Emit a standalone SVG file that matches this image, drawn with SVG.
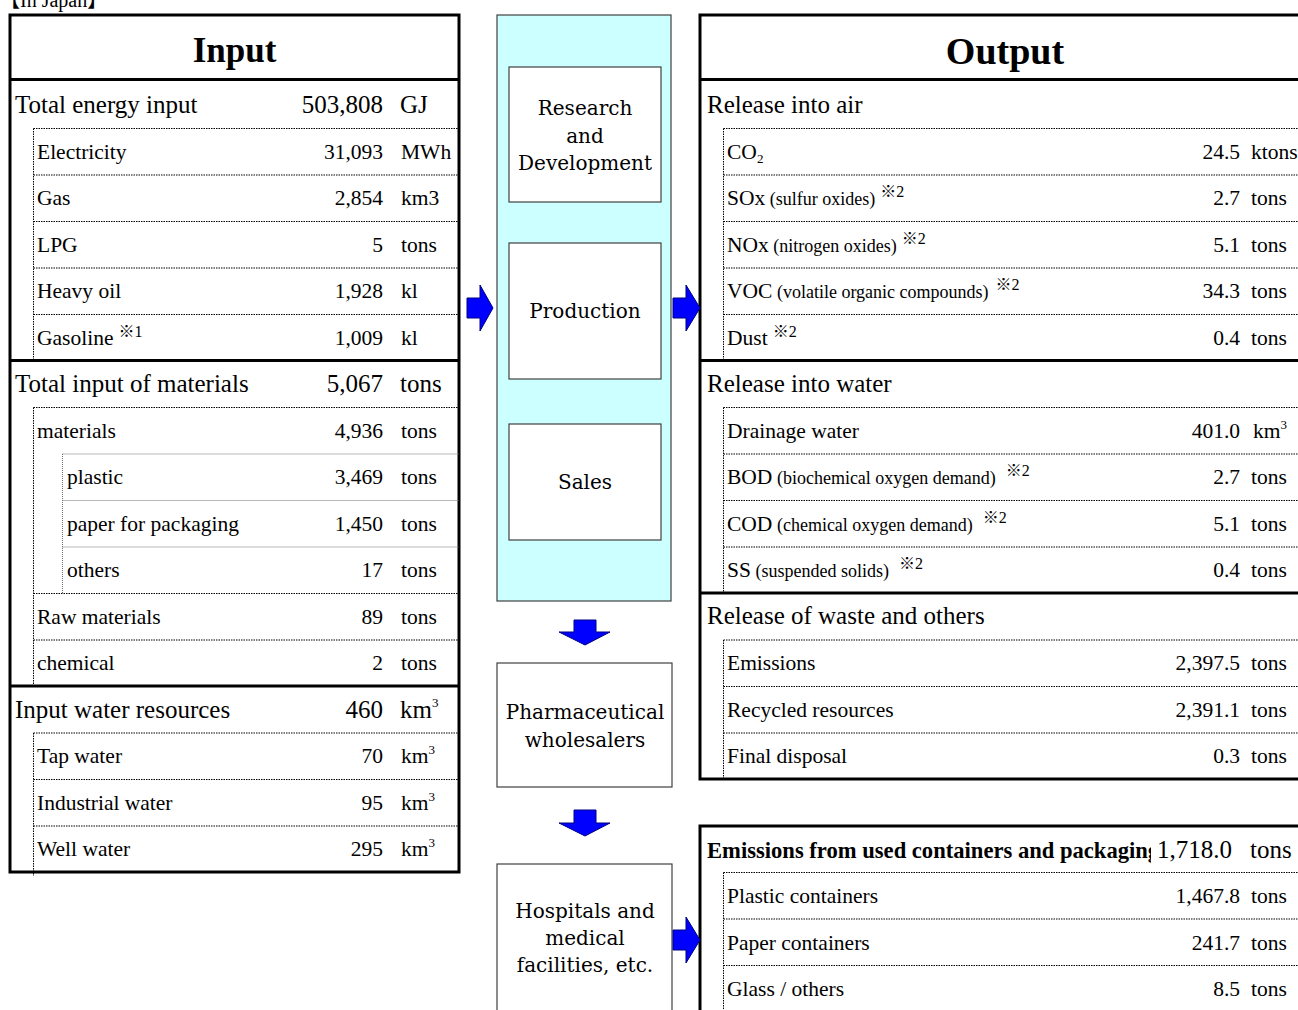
<svg xmlns="http://www.w3.org/2000/svg" width="1298" height="1010" viewBox="0 0 1298 1010">
<defs>
<style>
.t{font-family:"Liberation Serif","Noto Sans CJK JP",serif;fill:#000}
.h{font-size:25px}
.s{font-size:21.5px}
.sm{font-size:18px}
.sup{font-size:13px}
.km{font-size:16px}
.r{text-anchor:end}
.ttl{font-weight:bold;text-anchor:middle}
.proc{font-family:"DejaVu Serif",serif;font-size:20px;text-anchor:middle;fill:#000}
.thick{fill:none;stroke:#000;stroke-width:3}
.dot{fill:none;stroke:#000;stroke-width:1;stroke-dasharray:1.5 1}
.dotg{fill:none;stroke:#707070;stroke-width:1;stroke-dasharray:1 1}
.arrow{fill:#0000FF;stroke:#000080;stroke-width:1}
.box{fill:#fff;stroke:#404040;stroke-width:1.2}
</style>
<clipPath id="clipPkg"><rect x="700" y="826" width="451" height="46"/></clipPath>
</defs>
<rect width="1298" height="1010" fill="#fff"/>
<text class="t" x="0" y="7" font-size="20">【In Japan】</text>

<g id="input-panel">
<rect class="thick" x="10" y="15" width="449" height="857"/>
<line class="thick" x1="10" y1="79.5" x2="459" y2="79.5"/>
<line class="thick" x1="10" y1="360.5" x2="459" y2="360.5"/>
<line class="thick" x1="10" y1="686" x2="459" y2="686"/>
<path class="dot" d="M33.5 128.5H459M33.5 175H459M33.5 221.5H459M33.5 268H459M33.5 314.5H459M33.5 128.5V359"/>
<path class="dot" d="M33.5 407.5H459M33.5 593.5H459M33.5 640H459M33.5 407.5V685"/>
<path class="dotg" d="M62.5 454H459M62.5 500.5H459M62.5 547H459M62.5 454V593"/>
<path class="dot" d="M33.5 733H459M33.5 779.5H459M33.5 826H459M33.5 733V876"/>
<text class="t ttl" x="234.5" y="62" font-size="35">Input</text>
<text class="t h" x="15" y="113">Total energy input</text><text class="t h r" x="383" y="113">503,808</text><text class="t h" x="400" y="113">GJ</text>
<text class="t s" x="37" y="158.5">Electricity</text><text class="t s r" x="383" y="158.5">31,093</text><text class="t s" x="401" y="158.5">MWh</text>
<text class="t s" x="37" y="205">Gas</text><text class="t s r" x="383" y="205">2,854</text><text class="t s" x="401" y="205">km3</text>
<text class="t s" x="37" y="251.5">LPG</text><text class="t s r" x="383" y="251.5">5</text><text class="t s" x="401" y="251.5">tons</text>
<text class="t s" x="37" y="298">Heavy oil</text><text class="t s r" x="383" y="298">1,928</text><text class="t s" x="401" y="298">kl</text>
<text class="t s" x="37" y="344.5">Gasoline<tspan class="km" dx="5" dy="-8">※1</tspan></text><text class="t s r" x="383" y="344.5">1,009</text><text class="t s" x="401" y="344.5">kl</text>
<text class="t h" x="15" y="392">Total input of materials</text><text class="t h r" x="383" y="392">5,067</text><text class="t h" x="400" y="392">tons</text>
<text class="t s" x="37" y="437.5">materials</text><text class="t s r" x="383" y="437.5">4,936</text><text class="t s" x="401" y="437.5">tons</text>
<text class="t s" x="67" y="484">plastic</text><text class="t s r" x="383" y="484">3,469</text><text class="t s" x="401" y="484">tons</text>
<text class="t s" x="67" y="530.5">paper for packaging</text><text class="t s r" x="383" y="530.5">1,450</text><text class="t s" x="401" y="530.5">tons</text>
<text class="t s" x="67" y="577">others</text><text class="t s r" x="383" y="577">17</text><text class="t s" x="401" y="577">tons</text>
<text class="t s" x="37" y="623.5">Raw materials</text><text class="t s r" x="383" y="623.5">89</text><text class="t s" x="401" y="623.5">tons</text>
<text class="t s" x="37" y="670">chemical</text><text class="t s r" x="383" y="670">2</text><text class="t s" x="401" y="670">tons</text>
<text class="t h" x="15" y="717.5">Input water resources</text><text class="t h r" x="383" y="717.5">460</text><text class="t h" x="400" y="717.5">km<tspan class="sup" dy="-11">3</tspan></text>
<text class="t s" x="37" y="763">Tap water</text><text class="t s r" x="383" y="763">70</text><text class="t s" x="401" y="763">km<tspan class="sup" dy="-9">3</tspan></text>
<text class="t s" x="37" y="809.5">Industrial water</text><text class="t s r" x="383" y="809.5">95</text><text class="t s" x="401" y="809.5">km<tspan class="sup" dy="-9">3</tspan></text>
<text class="t s" x="37" y="856">Well water</text><text class="t s r" x="383" y="856">295</text><text class="t s" x="401" y="856">km<tspan class="sup" dy="-9">3</tspan></text>
</g>

<g id="process-column">
<rect x="497" y="15" width="174" height="586" fill="#CCFFFF" stroke="#404040" stroke-width="1.2"/>
<g id="node-rd"><rect class="box" x="509" y="67" width="152" height="135"/>
<text class="proc" x="585" y="115">Research</text><text class="proc" x="585" y="142.5">and</text><text class="proc" x="585" y="170">Development</text></g>
<g id="node-production"><rect class="box" x="509" y="243" width="152" height="136"/>
<text class="proc" x="585" y="318">Production</text></g>
<g id="node-sales"><rect class="box" x="509" y="424" width="152" height="116"/>
<text class="proc" x="585" y="489">Sales</text></g>
</g>
<g id="node-wholesalers"><rect class="box" x="497" y="663" width="175" height="124"/>
<text class="proc" x="585" y="719">Pharmaceutical</text><text class="proc" x="585" y="746.5">wholesalers</text></g>
<g id="node-hospitals"><rect class="box" x="497" y="864" width="175" height="170"/>
<text class="proc" x="585" y="918">Hospitals and</text><text class="proc" x="585" y="945">medical</text><text class="proc" x="585" y="972">facilities, etc.</text></g>

<g id="output-panel">
<rect class="thick" x="700" y="15" width="620" height="764"/>
<line class="thick" x1="700" y1="79.5" x2="1320" y2="79.5"/>
<line class="thick" x1="700" y1="360.5" x2="1320" y2="360.5"/>
<line class="thick" x1="700" y1="593" x2="1320" y2="593"/>
<path class="dot" d="M723.5 128.5H1320M723.5 175H1320M723.5 221.5H1320M723.5 268H1320M723.5 314.5H1320M723.5 128.5V359"/>
<path class="dot" d="M723.5 407.5H1320M723.5 454H1320M723.5 500.5H1320M723.5 547H1320M723.5 407.5V592"/>
<path class="dot" d="M723.5 640H1320M723.5 686.5H1320M723.5 733H1320M723.5 640V778"/>
<text class="t ttl" x="1005" y="64" font-size="38">Output</text>
<text class="t h" x="707" y="113">Release into air</text>
<text class="t s" x="727" y="158.5">CO<tspan class="sup" dy="4">2</tspan></text><text class="t s r" x="1240" y="158.5">24.5</text><text class="t s" x="1251" y="158.5">ktons</text>
<text class="t s" x="727" y="205">SOx<tspan class="sm"> (sulfur oxides)</tspan><tspan class="km" dx="5" dy="-8">※2</tspan></text><text class="t s r" x="1240" y="205">2.7</text><text class="t s" x="1251" y="205">tons</text>
<text class="t s" x="727" y="251.5">NOx<tspan class="sm"> (nitrogen oxides)</tspan><tspan class="km" dx="5" dy="-8">※2</tspan></text><text class="t s r" x="1240" y="251.5">5.1</text><text class="t s" x="1251" y="251.5">tons</text>
<text class="t s" x="727" y="298">VOC<tspan class="sm"> (volatile organic compounds)</tspan><tspan class="km" dx="7" dy="-8">※2</tspan></text><text class="t s r" x="1240" y="298">34.3</text><text class="t s" x="1251" y="298">tons</text>
<text class="t s" x="727" y="344.5">Dust<tspan class="km" dx="5" dy="-8">※2</tspan></text><text class="t s r" x="1240" y="344.5">0.4</text><text class="t s" x="1251" y="344.5">tons</text>
<text class="t h" x="707" y="392">Release into water</text>
<text class="t s" x="727" y="437.5">Drainage water</text><text class="t s r" x="1240" y="437.5">401.0</text><text class="t s" x="1253" y="437.5">km<tspan class="sup" dy="-9">3</tspan></text>
<text class="t s" x="727" y="484">BOD<tspan class="sm"> (biochemical oxygen demand)</tspan><tspan class="km" dx="10" dy="-8">※2</tspan></text><text class="t s r" x="1240" y="484">2.7</text><text class="t s" x="1251" y="484">tons</text>
<text class="t s" x="727" y="530.5">COD<tspan class="sm"> (chemical oxygen demand)</tspan><tspan class="km" dx="10" dy="-8">※2</tspan></text><text class="t s r" x="1240" y="530.5">5.1</text><text class="t s" x="1251" y="530.5">tons</text>
<text class="t s" x="727" y="577">SS<tspan class="sm"> (suspended solids)</tspan><tspan class="km" dx="10" dy="-8">※2</tspan></text><text class="t s r" x="1240" y="577">0.4</text><text class="t s" x="1251" y="577">tons</text>
<text class="t h" x="707" y="623.5">Release of waste and others</text>
<text class="t s" x="727" y="670">Emissions</text><text class="t s r" x="1240" y="670">2,397.5</text><text class="t s" x="1251" y="670">tons</text>
<text class="t s" x="727" y="716.5">Recycled resources</text><text class="t s r" x="1240" y="716.5">2,391.1</text><text class="t s" x="1251" y="716.5">tons</text>
<text class="t s" x="727" y="763">Final disposal</text><text class="t s r" x="1240" y="763">0.3</text><text class="t s" x="1251" y="763">tons</text>
</g>

<g id="output-packaging">
<rect class="thick" x="700" y="826" width="620" height="220"/>
<path class="dot" d="M723.5 872.5H1320M723.5 919H1320M723.5 965.5H1320M723.5 872.5V1010"/>
<text class="t" x="707" y="857.5" font-size="22.6" font-weight="bold" clip-path="url(#clipPkg)">Emissions from used containers and packaging</text>
<text class="t h r" x="1232" y="857.5">1,718.0</text><text class="t h" x="1250" y="857.5">tons</text>
<text class="t s" x="727" y="903">Plastic containers</text><text class="t s r" x="1240" y="903">1,467.8</text><text class="t s" x="1251" y="903">tons</text>
<text class="t s" x="727" y="949.5">Paper containers</text><text class="t s r" x="1240" y="949.5">241.7</text><text class="t s" x="1251" y="949.5">tons</text>
<text class="t s" x="727" y="996">Glass / others</text><text class="t s r" x="1240" y="996">8.5</text><text class="t s" x="1251" y="996">tons</text>
</g>

<g id="connectors">
<polygon class="arrow" points="467,298 480,298 480,285 493,308 480,331 480,318 467,318"/>
<polygon class="arrow" points="673,298 686,298 686,285 700,308 686,331 686,318 673,318"/>
<polygon class="arrow" points="673,930 686,930 686,917 700,940 686,963 686,950 673,950"/>
<polygon class="arrow" points="574,620 596,620 596,632 610,632 585,645 559,632 574,632"/>
<polygon class="arrow" points="574,810 596,810 596,823 610,823 585,836 559,823 574,823"/>
</g>
</svg>
